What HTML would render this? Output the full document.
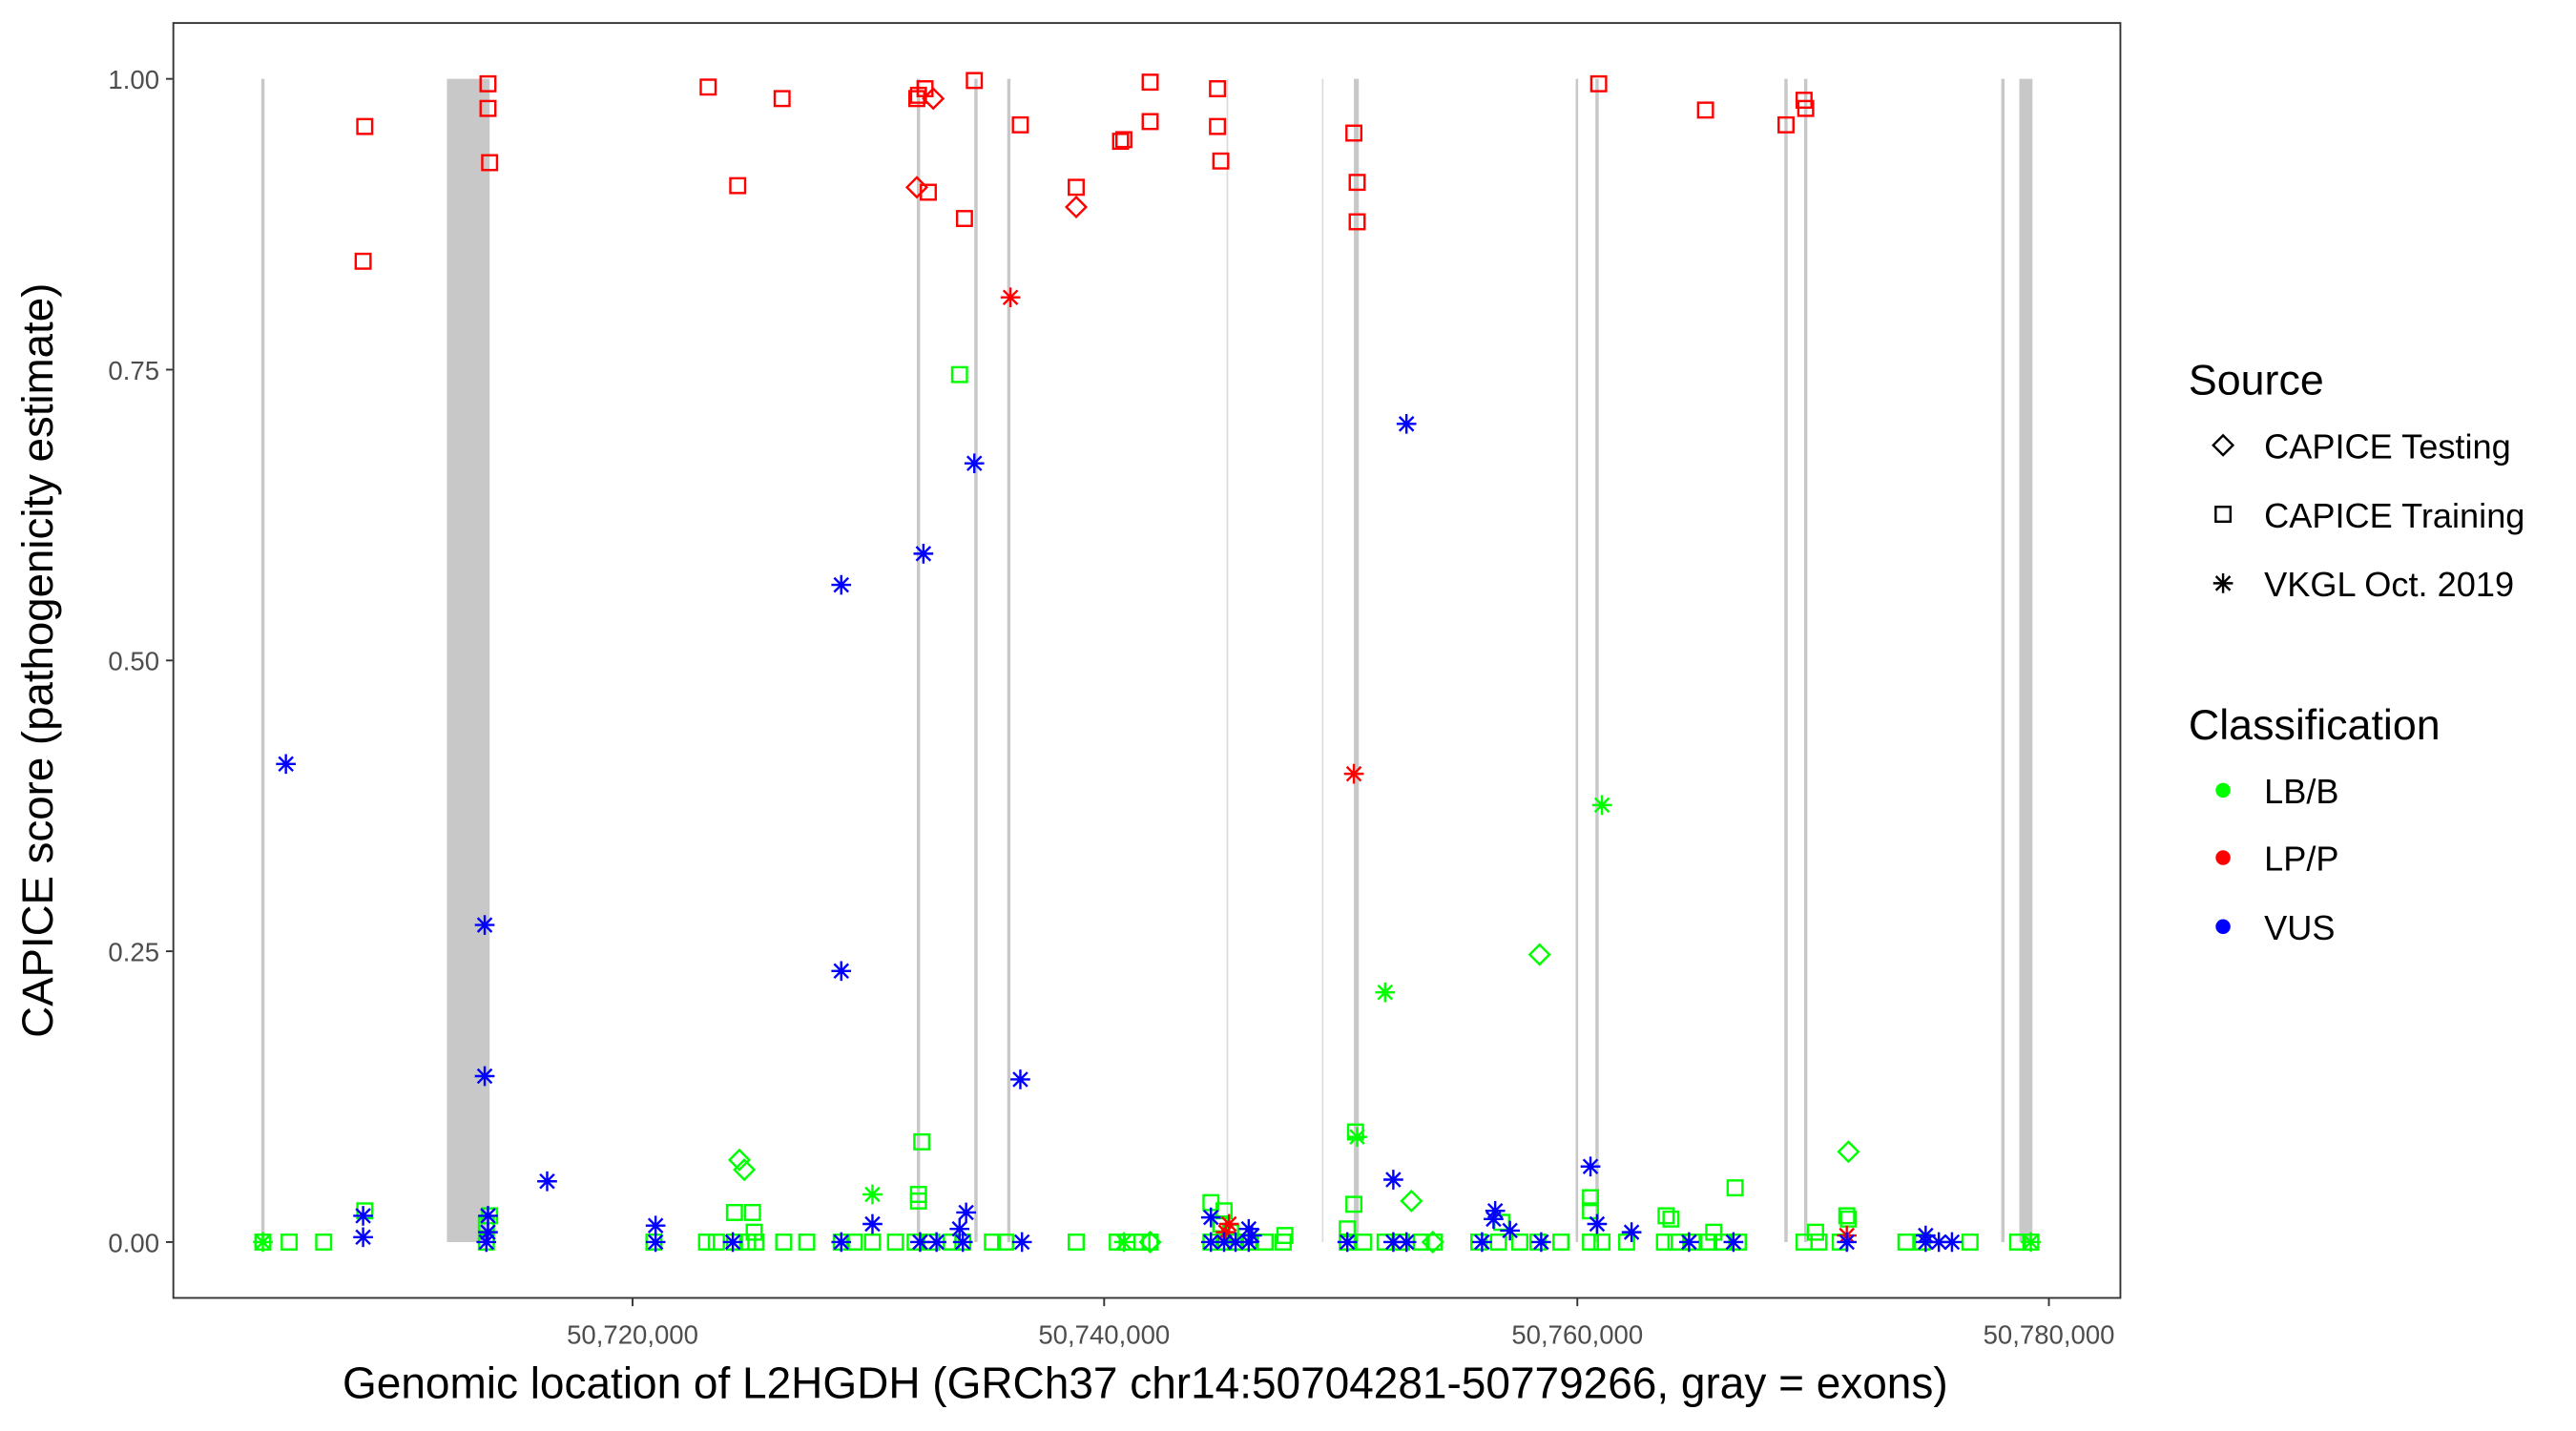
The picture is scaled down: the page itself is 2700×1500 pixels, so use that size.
<!DOCTYPE html>
<html><head><meta charset="utf-8"><style>html,body{margin:0;padding:0;background:#fff}svg{display:block}</style></head>
<body>
<svg id="s" xmlns="http://www.w3.org/2000/svg" width="2700" height="1500" viewBox="0 0 1567.8 871" preserveAspectRatio="none" font-family="Liberation Sans, Arial, sans-serif">
<rect width="1568" height="871" fill="#fff"/>
<g fill="#c8c8c8" stroke="none">
<rect x="159" y="48" width="2" height="708"/>
<rect x="272" y="48" width="26" height="708"/>
<rect x="558" y="48" width="2" height="708"/>
<rect x="593" y="48" width="2" height="708"/>
<rect x="613" y="48" width="2" height="708"/>
<rect x="746.5" y="48" width="1" height="708" fill="#dcdcdc"/>
<rect x="804.5" y="48" width="1" height="708" fill="#dcdcdc"/>
<rect x="824" y="48" width="3" height="708"/>
<rect x="959" y="48" width="1.5" height="708"/>
<rect x="971" y="48" width="2" height="708"/>
<rect x="1086" y="48" width="2" height="708"/>
<rect x="1098" y="48" width="2" height="708"/>
<rect x="1218" y="48" width="2" height="708"/>
<rect x="1229" y="48" width="8" height="708"/>
</g>
<g id="pts" fill="none" stroke-width="1.4"></g>
<rect x="105.5" y="14" width="1185" height="776" fill="none" stroke="#333" stroke-width="1.1"/>
<g stroke="#333" stroke-width="1.1">
<line x1="101" x2="105" y1="48" y2="48"/><line x1="101" x2="105" y1="225" y2="225"/><line x1="101" x2="105" y1="402" y2="402"/><line x1="101" x2="105" y1="579" y2="579"/><line x1="101" x2="105" y1="756" y2="756"/>
<line x1="385" x2="385" y1="790" y2="795"/><line x1="672" x2="672" y1="790" y2="795"/><line x1="960" x2="960" y1="790" y2="795"/><line x1="1247" x2="1247" y1="790" y2="795"/>
</g>
<g fill="#4d4d4d" font-size="16" text-anchor="end">
<text x="97" y="54">1.00</text><text x="97" y="231">0.75</text><text x="97" y="408">0.50</text><text x="97" y="585">0.25</text><text x="97" y="762">0.00</text>
</g>
<g fill="#4d4d4d" font-size="16" text-anchor="middle">
<text x="385" y="818">50,720,000</text><text x="672" y="818">50,740,000</text><text x="960" y="818">50,760,000</text><text x="1247" y="818">50,780,000</text>
</g>
<text x="697" y="851" font-size="26.7" text-anchor="middle">Genomic location of L2HGDH (GRCh37 chr14:50704281-50779266, gray = exons)</text>
<text transform="translate(32,402) rotate(-90)" font-size="26.5" text-anchor="middle">CAPICE score (pathogenicity estimate)</text>
<text x="1332" y="240" font-size="26">Source</text>
<text x="1378" y="279" font-size="21">CAPICE Testing</text>
<text x="1378" y="321" font-size="21">CAPICE Training</text>
<text x="1378" y="363" font-size="21">VKGL Oct. 2019</text>
<text x="1332" y="450" font-size="26">Classification</text>
<text x="1378" y="489" font-size="21">LB/B</text>
<text x="1378" y="530" font-size="21">LP/P</text>
<text x="1378" y="572" font-size="21">VUS</text>
<g id="leg" fill="none" stroke="#000" stroke-width="1.4"></g>
<circle cx="1353" cy="481" r="4.5" fill="#00ff00"/>
<circle cx="1353" cy="522" r="4.5" fill="#ff0000"/>
<circle cx="1353" cy="564" r="4.5" fill="#0000ff"/>
</svg>
<script>
var NS="http://www.w3.org/2000/svg";
function shape(g,x,y,t,c){
  var e;
  if(t=="s"){e=document.createElementNS(NS,"rect");e.setAttribute("x",x-4.5);e.setAttribute("y",y-4.5);e.setAttribute("width",9);e.setAttribute("height",9);}
  else if(t=="d"){e=document.createElementNS(NS,"path");e.setAttribute("d","M"+x+","+(y-6)+"L"+(x+6)+","+y+"L"+x+","+(y+6)+"L"+(x-6)+","+y+"Z");}
  else {e=document.createElementNS(NS,"path");var r=6,q=4.3;e.setAttribute("d","M"+x+","+(y-r)+"V"+(y+r)+"M"+(x-r)+","+y+"H"+(x+r)+"M"+(x-q)+","+(y-q)+"L"+(x+q)+","+(y+q)+"M"+(x-q)+","+(y+q)+"L"+(x+q)+","+(y-q));}
  e.setAttribute("stroke",c);g.appendChild(e);
}
var g=document.getElementById("pts"),R="#ff0000",G="#00ff00",B="#0000ff";
var pts=[];
[160,176,197,296,398,430,436,447,455,460,477,491,512,520,531,545,557,567,579,586,604,612,655,680,686,695,700,737,745,752,760,770,781,820,830,843,853,865,873,900,912,925,936,950,968,975,990,1013,1020,1030,1040,1048,1058,1098,1107,1120,1160,1170,1199,1228,1236].forEach(function(x){pts.push([x,756,"s",G]);});
[[296,745],[447,738],[458,738],[459,750],[737,732],[745,737],[782,752],[820,748],[824,733],[914,744],[1014,740],[1017,742],[1043,750],[1124,740],[1125,742],[1105,750],[298,740],[222,737],[561,695],[825,689],[968,729],[968,737],[1056,723],[559,727],[559,731],[584,228],[743,745],[749,750]].forEach(function(p){pts.push([p[0],p[1],"s",G]);});
[[531,727],[975,490],[843,604],[826,692],[160,756],[684,756],[1236,756]].forEach(function(p){pts.push([p[0],p[1],"a",G]);});
[[937,581],[1125,701],[450,706],[453,712],[859,731],[700,756],[872,756]].forEach(function(p){pts.push([p[0],p[1],"d",G]);});
[[222,77],[221,159],[297,51],[297,66],[298,99],[431,53],[449,113],[476,60],[558,60],[559,58],[563,54],[565,117],[587,133],[593,49],[621,76],[655,114],[682,86],[684,85],[700,74],[700,50],[741,54],[741,77],[743,98],[824,81],[826,111],[826,135],[973,51],[1038,67],[1087,76],[1098,61],[1099,66]].forEach(function(p){pts.push([p[0],p[1],"s",R]);});
[[558,114],[568,60],[655,126]].forEach(function(p){pts.push([p[0],p[1],"d",R]);});
[[615,181],[824,471],[746,750],[748,745],[1124,752]].forEach(function(p){pts.push([p[0],p[1],"a",R]);});
[[174,465],[295,563],[295,655],[333,719],[512,356],[512,591],[562,337],[593,282],[621,657],[856,258],[848,718],[968,710],[221,740],[221,753],[399,746],[531,745],[588,738],[737,741],[972,745],[993,750],[910,737],[909,742],[919,749],[297,740],[297,750],[584,748],[760,748],[762,752],[1172,752]].forEach(function(p){pts.push([p[0],p[1],"a",B]);});
[296,399,446,512,560,570,586,622,737,745,752,760,820,848,856,902,938,1028,1055,1124,1172,1180,1188].forEach(function(x){pts.push([x,756,"a",B]);});
pts.forEach(function(p){shape(g,p[0],p[1],p[2],p[3]);});
var l=document.getElementById("leg");
shape(l,1353,271,"d","#000");shape(l,1353,313,"s","#000");shape(l,1353,355,"a","#000");
</script>
</body></html>
